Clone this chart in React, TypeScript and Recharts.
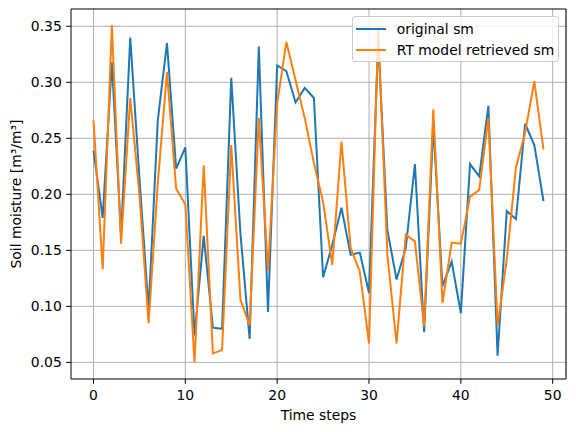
import React from "react";
import {
  LineChart,
  Line,
  XAxis,
  YAxis,
  CartesianGrid,
  Legend,
  ReferenceLine,
} from "recharts";

const originalSm = [
  0.239, 0.179, 0.318, 0.163, 0.34, 0.215, 0.097, 0.266, 0.335, 0.223,
  0.242, 0.074, 0.163, 0.081, 0.08, 0.304, 0.165, 0.071, 0.332, 0.095,
  0.315, 0.31, 0.282, 0.295, 0.286, 0.126, 0.155, 0.188, 0.146, 0.148,
  0.112, 0.338, 0.168, 0.124, 0.152, 0.227, 0.077, 0.262, 0.118, 0.14,
  0.094, 0.227, 0.216, 0.279, 0.056, 0.185, 0.178, 0.263, 0.244, 0.194,
];

const retrievedSm = [
  0.266, 0.133, 0.351, 0.156, 0.286, 0.2, 0.085, 0.21, 0.309, 0.205,
  0.191, 0.05, 0.226, 0.058, 0.061, 0.244, 0.106, 0.083, 0.268, 0.132,
  0.281, 0.336, 0.302, 0.268, 0.228, 0.193, 0.137, 0.247, 0.152, 0.131,
  0.067, 0.347, 0.146, 0.067, 0.164, 0.158, 0.082, 0.276, 0.103, 0.157,
  0.156, 0.198, 0.204, 0.268, 0.083, 0.142, 0.224, 0.255, 0.301, 0.24,
];

const xTicks = [0, 10, 20, 30, 40, 50];
const yTicks = [0.05, 0.1, 0.15, 0.2, 0.25, 0.3, 0.35];

const seriesNames = ["original sm", "RT model retrieved sm"];

const data = originalSm.map((v, i) => ({
  step: i,
  original: v,
  retrieved: retrievedSm[i],
}));

const X_DOMAIN: [number, number] = [-2.45, 51.45];
const Y_DOMAIN: [number, number] = [0.0352, 0.3654];

const FONT = "DejaVu Sans, sans-serif";
const FS = 13.9;
const BLUE = "#1f77b4";
const ORANGE = "#ff7f0e";

function XLabel(props: any) {
  const vb = props.viewBox || {};
  return (
    <text
      x={vb.x + vb.width / 2}
      y={420}
      textAnchor="middle"
      fontFamily={FONT}
      fontSize={FS}
      fill="#000"
    >
      Time steps
    </text>
  );
}

function YLabel(props: any) {
  const vb = props.viewBox || {};
  const cy = vb.y + vb.height / 2;
  return (
    <text
      x={21}
      y={cy}
      transform={`rotate(-90, 21, ${cy})`}
      textAnchor="middle"
      fontFamily={FONT}
      fontSize={FS}
      fill="#000"
    >
      Soil moisture [m³/m³]
    </text>
  );
}

function LegendBox() {
  const colors = [BLUE, ORANGE];
  return (
    <div
      style={{
        width: 207,
        height: 46,
        boxSizing: "border-box",
        background: "rgba(255,255,255,0.8)",
        border: "1px solid #cccccc",
        borderRadius: 3,
        position: "relative",
        fontFamily: FONT,
        fontSize: FS,
        color: "#000",
      }}
    >
      {seriesNames.map((name, i) => (
        <div
          key={name}
          style={{
            position: "absolute",
            left: 0,
            top: 2.5 + i * 21.1,
            height: 18,
            display: "flex",
            alignItems: "center",
            whiteSpace: "nowrap",
          }}
        >
          <span
            style={{
              display: "inline-block",
              marginLeft: 3,
              width: 30,
              height: 2,
              background: colors[i],
            }}
          />
          <span style={{ marginLeft: 10.5 }}>{name}</span>
        </div>
      ))}
    </div>
  );
}

export default function App() {
  return (
    <div
      style={{
        position: "absolute",
        left: 0,
        top: 0,
        width: 576,
        height: 432,
        background: "#fff",
      }}
    >
      <LineChart
        width={576}
        height={432}
        data={data}
        margin={{ top: 9, right: 10, left: 0, bottom: 0 }}
      >
        <CartesianGrid
          stroke="#b0b0b0"
          strokeWidth={1}
          verticalValues={xTicks}
          horizontalValues={yTicks}
        />
        <XAxis
          dataKey="step"
          type="number"
          domain={X_DOMAIN}
          ticks={xTicks}
          height={53}
          tickSize={4.8}
          tickMargin={6.5}
          stroke="#000"
          tick={{ fill: "#000", fontFamily: FONT, fontSize: FS }}
          allowDataOverflow
          label={<XLabel />}
        />
        <YAxis
          type="number"
          domain={Y_DOMAIN}
          ticks={yTicks}
          width={71}
          tickSize={4.8}
          tickMargin={4.4}
          stroke="#000"
          tick={{ fill: "#000", fontFamily: FONT, fontSize: FS }}
          tickFormatter={(v: number) => v.toFixed(2)}
          allowDataOverflow
          label={<YLabel />}
        />
        <ReferenceLine y={Y_DOMAIN[1]} stroke="#000" strokeWidth={1.1} />
        <ReferenceLine x={X_DOMAIN[1]} stroke="#000" strokeWidth={1.1} />
        <Legend
          layout="horizontal"
          align="center"
          verticalAlign="middle"
          wrapperStyle={{ left: 352.3, top: 16, width: 207 }}
          content={() => <LegendBox />}
        />
        <Line
          type="linear"
          dataKey="original"
          name={seriesNames[0]}
          stroke={BLUE}
          strokeWidth={2}
          dot={false}
          isAnimationActive={false}
        />
        <Line
          type="linear"
          dataKey="retrieved"
          name={seriesNames[1]}
          stroke={ORANGE}
          strokeWidth={2}
          dot={false}
          isAnimationActive={false}
        />
      </LineChart>
    </div>
  );
}
